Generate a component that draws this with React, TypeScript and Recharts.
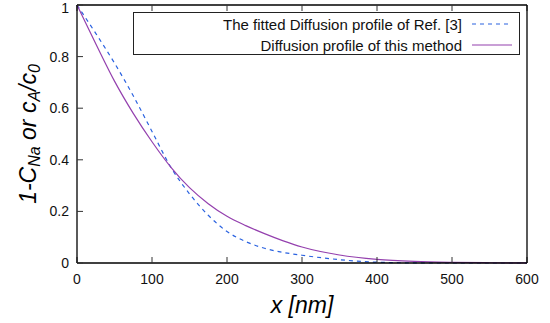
import React from 'react';
import { LineChart, Line, XAxis, YAxis, Legend } from 'recharts';

const xValues = [0, 25, 50, 75, 100, 125, 150, 175, 200, 225, 250, 275, 300, 350, 400, 450, 500, 550, 600];
const refProfile = [1, 0.89, 0.775, 0.648, 0.51, 0.372, 0.268, 0.185, 0.122, 0.083, 0.057, 0.041, 0.03, 0.013, 0.003, 0.0005, 0, 0, 0];
const thisMethod = [1, 0.85, 0.705, 0.58, 0.47, 0.372, 0.292, 0.23, 0.181, 0.145, 0.114, 0.086, 0.062, 0.031, 0.014, 0.006, 0.0025, 0.001, 0.0003];
const xTicks = [0, 100, 200, 300, 400, 500, 600];
const yTicks = [0, 0.2, 0.4, 0.6, 0.8, 1];
const seriesNames = ['The fitted Diffusion profile of Ref. [3]', 'Diffusion profile of this method'];

const BLUE = '#2a62e0';
const PURPLE = '#9440ae';
const FONT = '"Liberation Sans", Arial, sans-serif';

const data = xValues.map((x, i) => ({ x, ref: refProfile[i], method: thisMethod[i] }));

const LegendBox = () => (
  <div
    style={{
      width: 387,
      height: 43,
      border: '1px solid #222',
      boxSizing: 'border-box',
      background: '#fff',
      fontFamily: FONT,
      fontSize: 15,
      color: '#111',
      position: 'relative',
    }}
  >
    {[0, 1].map((i) => (
      <div
        key={i}
        style={{
          position: 'absolute',
          right: 7,
          top: i === 0 ? 2 : 23,
          height: 18,
          display: 'flex',
          alignItems: 'center',
          whiteSpace: 'nowrap',
        }}
      >
        <span>{seriesNames[i]}</span>
        <svg width={40} height={18} style={{ marginLeft: 10 }}>
          <line
            x1={0}
            y1={9}
            x2={40}
            y2={9}
            stroke={i === 0 ? BLUE : PURPLE}
            strokeWidth={1.2}
            strokeDasharray={i === 0 ? '4 4' : undefined}
          />
        </svg>
      </div>
    ))}
  </div>
);

const YTitle = (props: any) => {
  const vb = props.viewBox || { x: 0, y: 5, width: 77, height: 258 };
  const cx = vb.x + 28;
  const cy = vb.y + vb.height / 2;
  return (
    <text
      x={cx}
      y={cy}
      transform={`rotate(-90 ${cx} ${cy})`}
      textAnchor="middle"
      dominantBaseline="central"
      fontFamily={FONT}
      fontSize={23}
      fontStyle="italic"
      fill="#000"
    >
      <tspan>1-C</tspan>
      <tspan fontSize={16} dy={6}>Na</tspan>
      <tspan dy={-6}> or c</tspan>
      <tspan fontSize={16} dy={6}>A</tspan>
      <tspan dy={-6}>/c</tspan>
      <tspan fontSize={16} dy={6}>0</tspan>
    </text>
  );
};

const XTitle = (props: any) => {
  const vb = props.viewBox || { x: 77, y: 263, width: 450, height: 60 };
  return (
    <text
      x={vb.x + vb.width / 2}
      y={vb.y + 42}
      textAnchor="middle"
      dominantBaseline="central"
      fontFamily={FONT}
      fontSize={23}
      fontStyle="italic"
      fill="#000"
    >
      x [nm]
    </text>
  );
};

const NoTick = () => <g />;

export default function App() {
  const tickStyle = { fontFamily: FONT, fontSize: 14, fill: '#111' };
  const axisLine = { stroke: '#000', strokeWidth: 1.3 };
  const tickLine = { stroke: '#333' };
  return (
    <div style={{ position: 'absolute', left: 0, top: 0, width: 550, height: 323, background: '#fff' }}>
      <LineChart width={550} height={323} data={data} margin={{ top: 4, right: 22, bottom: 0, left: 0 }}>
        <XAxis
          xAxisId="b"
          dataKey="x"
          type="number"
          domain={[0, 600]}
          ticks={xTicks}
          height={60}
          tickSize={-6}
          tickMargin={17}
          tick={tickStyle}
          axisLine={axisLine}
          tickLine={tickLine}
          label={{ content: XTitle }}
        />
        <XAxis
          xAxisId="t"
          dataKey="x"
          type="number"
          domain={[0, 600]}
          ticks={xTicks}
          orientation="top"
          height={1}
          tickSize={-6}
          tick={NoTick}
          axisLine={axisLine}
          tickLine={tickLine}
        />
        <YAxis
          yAxisId="l"
          type="number"
          domain={[0, 1]}
          ticks={yTicks}
          width={77}
          tickSize={-6}
          tickMargin={14}
          tick={tickStyle}
          axisLine={axisLine}
          tickLine={tickLine}
          label={{ content: YTitle }}
        />
        <YAxis
          yAxisId="r"
          type="number"
          domain={[0, 1]}
          ticks={yTicks}
          orientation="right"
          width={1}
          tickSize={-6}
          tick={NoTick}
          axisLine={axisLine}
          tickLine={tickLine}
        />
        <Legend
          layout="horizontal"
          verticalAlign="middle"
          align="center"
          content={() => <LegendBox />}
          wrapperStyle={{ position: 'absolute', top: 12, left: 133, width: 387, height: 43 }}
        />
        <Line
          xAxisId="b"
          yAxisId="l"
          type="monotone"
          dataKey="ref"
          stroke={BLUE}
          strokeWidth={1.2}
          strokeDasharray="4 4"
          dot={false}
          isAnimationActive={false}
        />
        <Line
          xAxisId="b"
          yAxisId="l"
          type="monotone"
          dataKey="method"
          stroke={PURPLE}
          strokeWidth={1.2}
          dot={false}
          isAnimationActive={false}
        />
      </LineChart>
    </div>
  );
}
